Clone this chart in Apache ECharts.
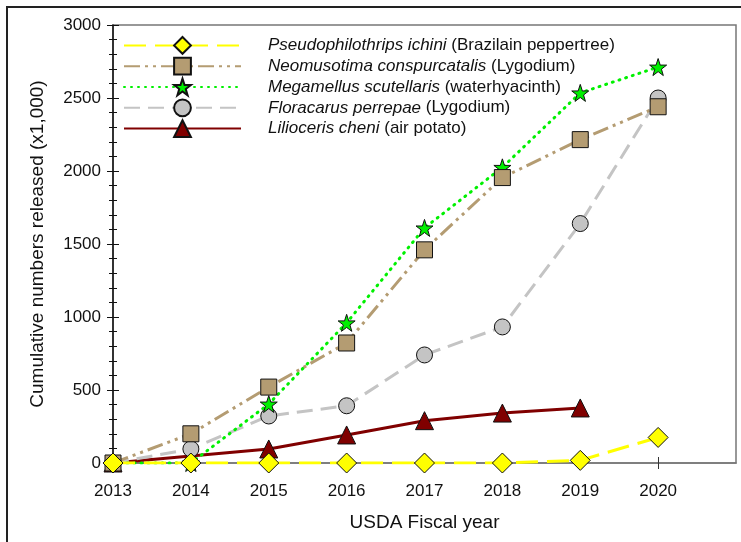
<!DOCTYPE html>
<html>
<head>
<meta charset="utf-8">
<style>
  html, body { margin: 0; padding: 0; background: #fff; }
  #chart { width: 741px; height: 542px; }
</style>
<script src="https://cdn.jsdelivr.net/npm/echarts@6/dist/echarts.min.js"></script>
</head>
<body>
<div id="chart"></div>
<script>
// ---- data ----
var years = [2013, 2014, 2015, 2016, 2017, 2018, 2019, 2020];
var speciesItalic = ['Pseudophilothrips ichini', 'Neomusotima conspurcatalis', 'Megamellus scutellaris', 'Floracarus perrepae', 'Lilioceris cheni'];
var speciesHost = ['(Brazilain peppertree)', '(Lygodium)', '(waterhyacinth)', '(Lygodium)', '(air potato)'];
var pseudophilothrips = [0, 0, 0, 0, 0, 0, 18, 175];
var neomusotima = [0, 200, 520, 822, 1460, 1955, 2215, 2440];
var megamellus = [0, 0, 404, 960, 1610, 2025, 2535, 2712];
var floracarus = [0, 96, 322, 392, 740, 932, 1640, 2500];
var lilioceris = [0, null, 96, 192, 290, 342, 377, null];
var yTicks = [0, 500, 1000, 1500, 2000, 2500, 3000];

var FONT = 'Liberation Sans, Arial, sans-serif';
var STAR = 'path://M50,0 L61.8,35.1 L98.1,35.1 L68.7,56.7 L79.4,91 L50,70 L20.6,91 L31.3,56.7 L1.9,35.1 L38.2,35.1 Z';

function pairs(vals) {
  var out = [];
  for (var i = 0; i < years.length; i++) {
    if (vals[i] !== null && vals[i] !== undefined) out.push([years[i], vals[i]]);
  }
  return out;
}

var styles = [
  { values: pseudophilothrips, color: '#ffff00', dash: [22, 9], symbol: 'diamond', size: 20, z: 10, cap: 'butt' },
  { values: neomusotima, color: '#b49c72', dash: [16, 5, 3, 5, 3, 5], symbol: 'rect', size: 16, z: 9, cap: 'butt' },
  { values: megamellus, color: '#00f000', dash: [1, 6], symbol: STAR, size: 17, z: 8, cap: 'round' },
  { values: floracarus, color: '#c4c4c4', dash: [16, 8], symbol: 'circle', size: 16, z: 7, cap: 'butt' },
  { values: lilioceris, color: '#800000', dash: 'solid', symbol: 'triangle', size: 18, z: 6, cap: 'butt' }
];

var series = styles.map(function (s, i) {
  return {
    name: speciesItalic[i] + ' ' + speciesHost[i],
    type: 'line',
    data: pairs(s.values),
    connectNulls: true,
    symbol: s.symbol,
    symbolSize: s.size,
    showAllSymbol: true,
    z: s.z,
    lineStyle: { color: s.color, width: 3, type: s.dash, cap: s.cap },
    itemStyle: { color: s.color, borderColor: '#111', borderWidth: 1, opacity: 1 },
    emphasis: { disabled: true },
    animation: false
  };
});

var chart = echarts.init(document.getElementById('chart'), null, { renderer: 'canvas' });
var axisCommonX = {
  type: 'value', min: 2013, max: 2021, interval: 1,
  splitLine: { show: false }
};
var axisCommonY = {
  type: 'value', min: 0, max: 3000, interval: 500,
  splitLine: { show: false }
};
chart.setOption({
  animation: false,
  backgroundColor: '#fff',
  grid: { left: 113, top: 25, right: 5, bottom: 79, show: true, borderColor: '#777', borderWidth: 1.5, containLabel: false },
  graphic: [{
    type: 'rect', shape: { x: 7, y: 7, width: 800, height: 600 },
    style: { fill: 'none', stroke: '#222', lineWidth: 2 }, silent: true, z: -1
  }],
  legend: {
    orient: 'vertical', left: 118, top: 31,
    itemWidth: 117, itemHeight: 21, itemGap: 2,
    selectedMode: false,
    formatter: function (name) {
      for (var i = 0; i < speciesItalic.length; i++) {
        if (name === speciesItalic[i] + ' ' + speciesHost[i]) {
          return '{i|' + speciesItalic[i] + '} {n|' + speciesHost[i] + '}';
        }
      }
      return name;
    },
    textStyle: {
      fontFamily: FONT, fontSize: 17, color: '#111', padding: [0, 0, 0, 22],
      rich: {
        i: { fontFamily: FONT, fontSize: 17, fontStyle: 'italic', color: '#111' },
        n: { fontFamily: FONT, fontSize: 17, color: '#111' }
      }
    },
    data: series.map(function (s) { return s.name; })
  },
  xAxis: [
    Object.assign({}, axisCommonX, {
      name: 'USDA Fiscal year', nameLocation: 'middle', nameGap: 50,
      nameTextStyle: { fontFamily: FONT, fontSize: 19, color: '#111' },
      axisLine: { show: true, onZero: false, lineStyle: { color: '#777', width: 1.5 } },
      axisTick: { show: true, inside: false, length: 6, customValues: years, lineStyle: { color: '#333', width: 1 } },
      axisLabel: {
        margin: 20, fontFamily: FONT, fontSize: 17, color: '#111', customValues: years,
        formatter: function (v) { return v <= 2020 ? String(v) : ''; }
      }
    }),
    Object.assign({}, axisCommonX, {
      position: 'bottom',
      axisLine: { show: false },
      axisTick: { show: true, inside: true, length: 6, customValues: years, lineStyle: { color: '#333', width: 1 } },
      axisLabel: { show: false }
    })
  ],
  yAxis: [
    Object.assign({}, axisCommonY, {
      name: 'Cumulative numbers released (x1,000)', nameLocation: 'middle', nameGap: 66,
      nameTextStyle: { fontFamily: FONT, fontSize: 19, color: '#111' },
      axisLine: { show: true, onZero: false, lineStyle: { color: '#111', width: 1.5 } },
      axisTick: { show: true, inside: false, length: 6, lineStyle: { color: '#111', width: 1 } },
      minorTick: { show: true, splitNumber: 5, length: 4, lineStyle: { color: '#111', width: 1 } },
      axisLabel: {
        margin: 12, fontFamily: FONT, fontSize: 17, color: '#111',
        formatter: function (v) { return yTicks.indexOf(v) >= 0 ? String(v) : ''; }
      }
    }),
    Object.assign({}, axisCommonY, {
      position: 'left',
      axisLine: { show: false },
      axisTick: { show: true, inside: true, length: 6, lineStyle: { color: '#111', width: 1 } },
      minorTick: { show: true, splitNumber: 5, length: 4, lineStyle: { color: '#111', width: 1 } },
      axisLabel: { show: false }
    })
  ],
  series: series
});
</script>
</body>
</html>
